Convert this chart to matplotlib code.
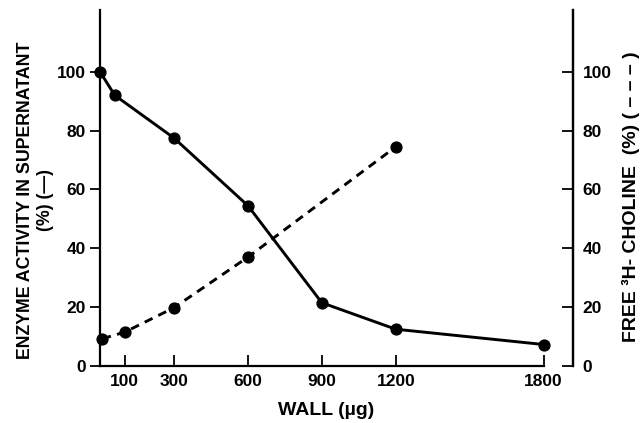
import matplotlib
matplotlib.use("Agg")
import matplotlib.pyplot as plt

plt.rcParams['font.family'] = ['Liberation Sans', 'DejaVu Sans']
plt.rcParams['font.weight'] = 'bold'

# Data
enzyme_wall = [0, 60, 300, 600, 900, 1200, 1800]
enzyme_activity = [100, 92, 77.5, 54.5, 21.5, 12.5, 7.3]
choline_wall = [10, 100, 300, 600, 1200]
choline_free = [9.3, 11.5, 19.8, 37, 74.5]
x_ticks = [100, 300, 600, 900, 1200, 1800]
y_ticks = [0, 20, 40, 60, 80, 100]

fig = plt.figure(figsize=(6.42, 4.23), dpi=100)
ax = fig.add_axes([100/642, 1-366/423, (573-100)/642, (366-10)/423])

ax.plot(enzyme_wall, enzyme_activity, color='black', lw=2.1, marker='o',
        markersize=7.8, clip_on=False, zorder=3)
ax.plot(choline_wall, choline_free, color='black', lw=2.1, marker='o',
        markersize=7.8, dashes=[3, 2.2], clip_on=False, zorder=3)

ax.set_xlim(0, 1919)
ax.set_ylim(0, 121)

ax.spines['top'].set_visible(False)
ax.spines['bottom'].set_bounds(0, 1800)
for s in ['left', 'right', 'bottom']:
    ax.spines[s].set_linewidth(1.6)

TF = 12.5
ax.set_xticks(x_ticks)
ax.set_xticklabels([str(v) for v in x_ticks], fontsize=TF, fontweight='bold')
ax.tick_params(axis='x', direction='in', length=8, width=1.3, pad=6)
ax.set_yticks(y_ticks)
ax.set_yticklabels([str(v) for v in y_ticks], fontsize=TF, fontweight='bold')
ax.tick_params(axis='y', direction='out', length=7, width=1.3, pad=3)

ax2 = ax.twinx()
ax2.set_ylim(0, 121)
ax2.set_yticks(y_ticks)
ax2.set_yticklabels([str(v) for v in y_ticks], fontsize=TF, fontweight='bold')
ax2.tick_params(axis='y', direction='in', length=8, width=1.3, pad=7)
for s in ['top', 'left', 'bottom']:
    ax2.spines[s].set_visible(False)
ax2.spines['right'].set_linewidth(1.6)

fig.text(326/642, 1-410/423, 'WALL (µg)', ha='center', va='center',
         fontsize=14, fontweight='bold')

fig.text(26/642, 1-200/423, 'ENZYME ACTIVITY IN SUPERNATANT', rotation=90,
         ha='center', va='center', fontsize=12.8, fontweight='bold')
fig.text(46/642, 1-200/423, '(%) (—)', rotation=90,
         ha='center', va='center', fontsize=12.8, fontweight='bold')
fig.text(631/642, 1-197/423, 'FREE ³H- CHOLINE  (%) ( – – – )', rotation=90,
         ha='center', va='center', fontsize=14, fontweight='bold')

fig.savefig('out.png', dpi=100)
